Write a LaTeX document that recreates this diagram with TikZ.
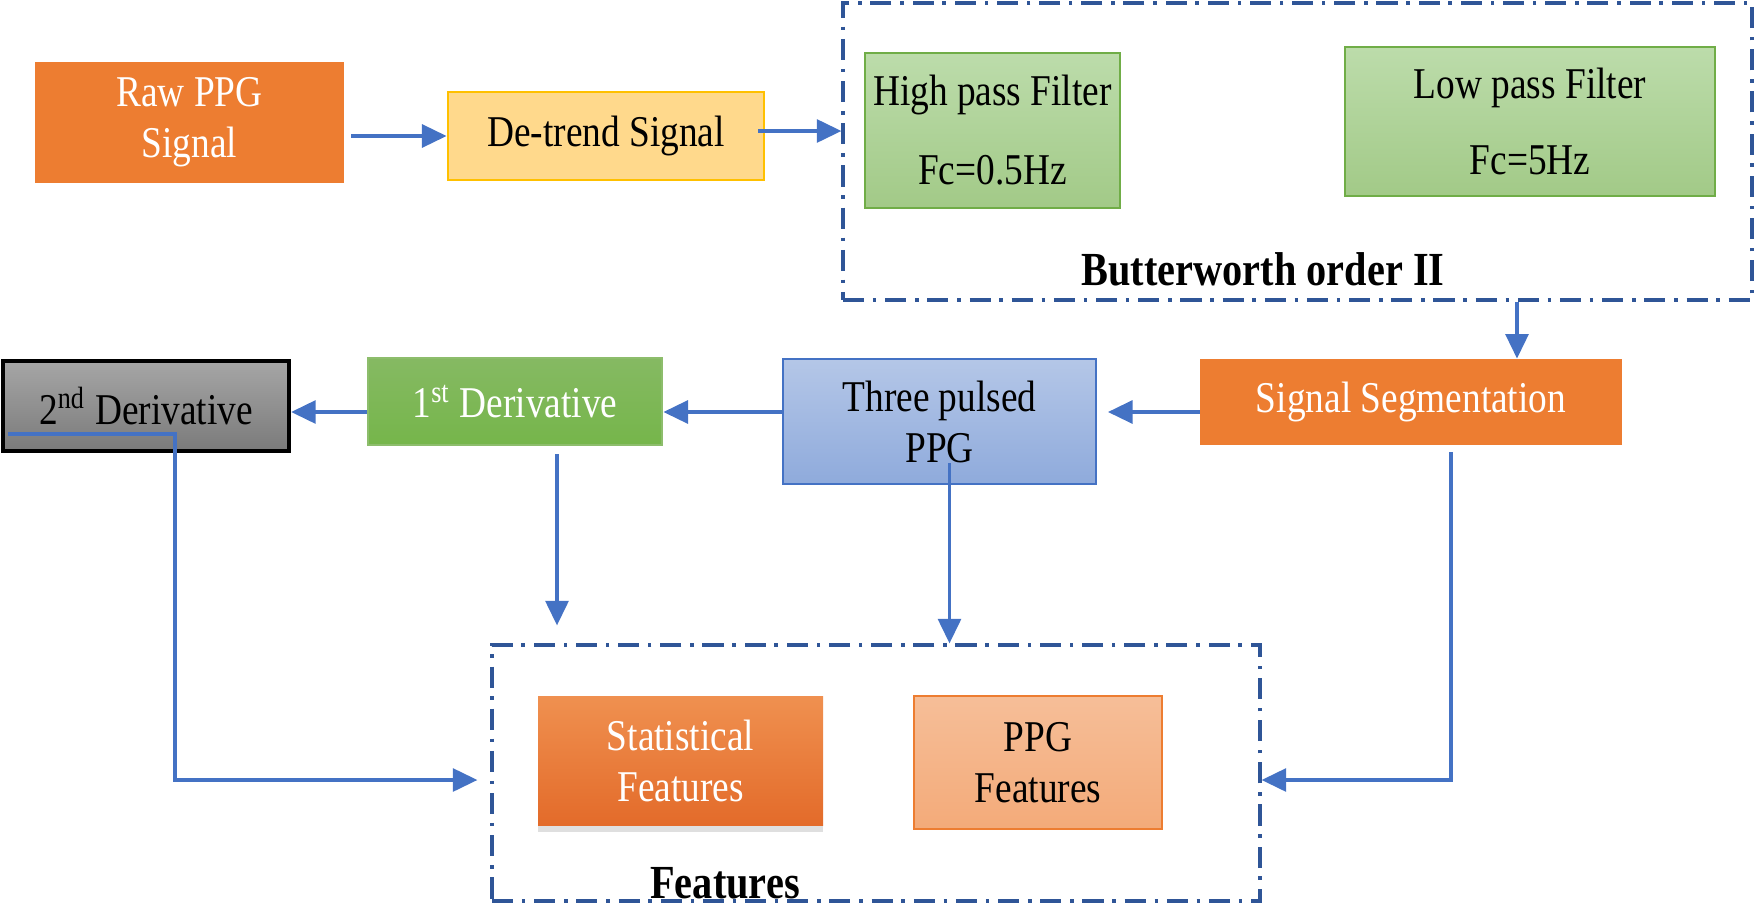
\documentclass[tikz,border=0pt]{standalone}
\usepackage{fontspec}
\setmainfont[FakeStretch=0.85]{Liberation Serif}
\usepackage{xcolor}
\usepackage{tikz}
\usetikzlibrary{arrows.meta,shadows}

\definecolor{ppgorange}{HTML}{ED7D31}
\definecolor{ppgyellow}{HTML}{FFD98C}
\definecolor{ppggold}{HTML}{FFC000}
\definecolor{ppggreen}{HTML}{70AD47}
\definecolor{ppgblue}{HTML}{4472C4}
\definecolor{ppgnavy}{HTML}{2F5597}

\begin{document}
\begin{tikzpicture}[
  blk/.style={inner sep=2pt, align=center, line width=0.8pt,
              font=\fontsize{12.5}{14.5}\selectfont},
  filterblk/.style={blk, draw=ppggreen, top color=green!5!ppggreen!45, bottom color=ppggreen!65},
  group/.style={draw=ppgnavy, line width=0.9pt, inner sep=0pt,
                dash pattern=on 6pt off 2.5pt on 1pt off 2.5pt},
  grouplabel/.style={font=\bfseries\fontsize{13.5}{15}\selectfont},
  arr/.style={draw=ppgblue, line width=1pt, -{Triangle[length=7pt,width=6.5pt]}},
]
  \useasboundingbox (0,0) rectangle (17.55,-9.06);

  % top row
  \node[blk, fill=ppgorange, draw=ppgorange, text=white,
        minimum width=3.07cm, minimum height=1.19cm] (raw) at (1.895,-1.225) {Raw PPG\\Signal};
  \node[blk, fill=ppgyellow, draw=ppggold,
        minimum width=3.16cm, minimum height=0.88cm] (detrend) at (6.06,-1.36) {De-trend Signal};

  \node[group, minimum width=9.09cm, minimum height=2.97cm] (bw) at (12.975,-1.515) {};
  \node[filterblk, minimum width=2.55cm, minimum height=1.55cm] (hp) at (9.925,-1.305) {High pass Filter\\[8pt]Fc=0.5Hz};
  \node[filterblk, minimum width=3.70cm, minimum height=1.49cm] (lp) at (15.30,-1.215) {Low pass Filter\\[7pt]Fc=5Hz};
  \node[grouplabel] (bwlabel) at (12.63,-2.69) {Butterworth order II};

  % middle row
  \node[blk, fill=ppgorange, draw=ppgorange, text=white,
        minimum width=4.20cm, minimum height=0.84cm] (seg) at (14.11,-4.02) {Signal Segmentation};
  \node[blk, draw=ppgblue, top color=ppgblue!40, bottom color=ppgblue!60,
        minimum width=3.13cm, minimum height=1.25cm] (three) at (9.395,-4.215) {Three pulsed\\PPG};
  \node[blk, draw=ppggreen!80, top color=ppggreen!85, bottom color=ppggreen!105!black, text=white,
        minimum width=2.94cm, minimum height=0.87cm] (d1) at (5.15,-4.015) {1\textsuperscript{st} Derivative};
  \node[blk, draw=black, line width=1.2pt, top color=black!35, bottom color=black!52,
        minimum width=2.86cm, minimum height=0.90cm] (d2) at (1.46,-4.06) {2\textsuperscript{nd} Derivative};

  % features
  \node[group, minimum width=7.68cm, minimum height=2.56cm] (feat) at (8.76,-7.73) {};
  \node[blk, top color=ppgorange!85, bottom color=ppgorange!90!red!95!black, text=white,
        drop shadow={opacity=0.25, shadow xshift=0pt, shadow yshift=-2pt},
        minimum width=2.85cm, minimum height=1.29cm] (stat) at (6.805,-7.605) {Statistical\\Features};
  \node[blk, draw=ppgorange, top color=ppgorange!50, bottom color=ppgorange!65,
        minimum width=2.48cm, minimum height=1.33cm] (ppgf) at (10.38,-7.625) {PPG\\Features};
  \node[grouplabel] (featlabel) at (7.25,-8.83) {Features};

  % connectors
  \draw[arr] ([xshift=2pt]raw.east |- detrend.west) -- (detrend.west);
  \draw[arr] ([xshift=-2pt,yshift=0.05cm]detrend.east) -- ([yshift=0.05cm]bw.west |- detrend.east);
  \draw[arr] ([xshift=1.06cm]seg.north |- bw.south) -- ([xshift=1.06cm]seg.north);
  \draw[arr, shorten >=3pt] ([yshift=-0.1cm]seg.west) -- ([yshift=-0.1cm]seg.west -| three.east);
  \draw[arr] ([yshift=-0.1cm]seg.west -| three.west) -- ([yshift=-0.1cm]seg.west -| d1.east);
  \draw[arr] ([yshift=-0.1cm]seg.west -| d1.west) -- ([yshift=-0.1cm]seg.west -| d2.east);
  \draw[arr, shorten >=0.18cm] ([xshift=0.42cm,yshift=-0.08cm]d1.south) -- ([xshift=0.42cm]d1.south |- feat.north);
  \draw[arr] ([xshift=0.1cm,yshift=0.22cm]three.south) -- ([xshift=0.1cm]three.south |- feat.north);
  \draw[arr, shorten >=0.13cm] ([xshift=2pt,yshift=-0.28cm]d2.west) -- ++(1.67,0) |- ([yshift=-0.07cm]feat.west);
  \draw[arr] ([xshift=0.4cm,yshift=-0.07cm]seg.south) |- ([yshift=-0.07cm]feat.east);
\end{tikzpicture}
\end{document}
